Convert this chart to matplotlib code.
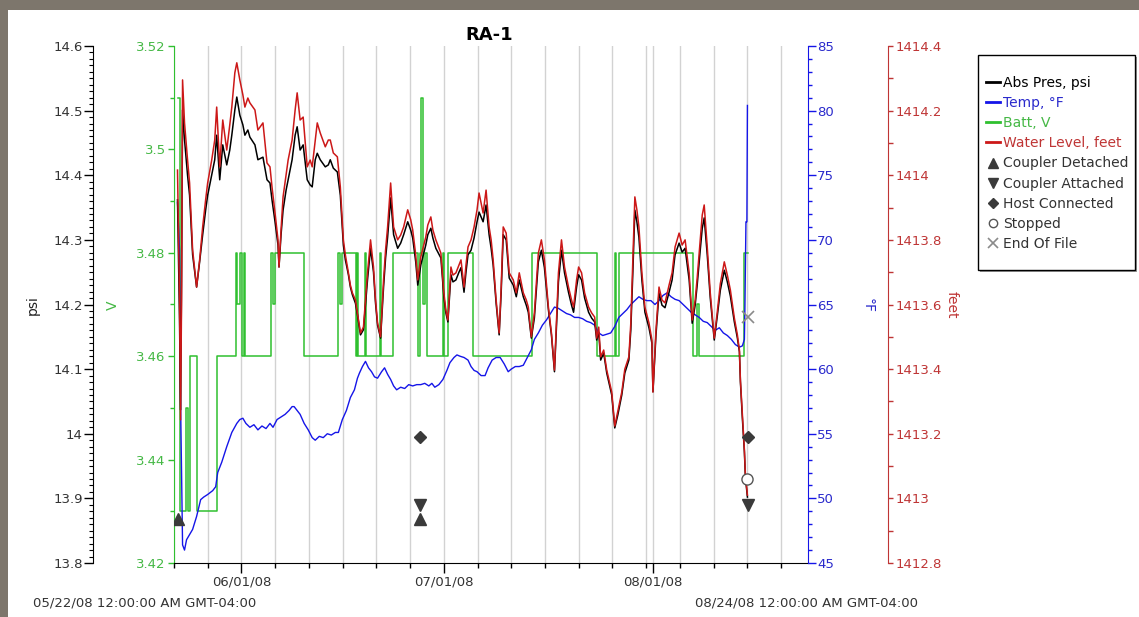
import matplotlib
matplotlib.use('Agg')
import matplotlib.pyplot as plt
from matplotlib.lines import Line2D
from matplotlib.patches import Rectangle
from matplotlib.ticker import MultipleLocator, FuncFormatter, FixedLocator
import numpy as np

# ---------------- data (x = days since 05/22/08 00:00) ----------------
level_days = [
    0.52, 0.82, 0.97, 1.12, 1.27, 1.56, 2.01, 2.31, 2.76, 3.35,
    3.80, 4.25, 4.69, 4.99, 5.59, 6.04, 6.33, 6.78, 7.23, 7.82,
    8.27, 8.57, 9.02, 9.31, 9.76, 10.21, 10.51, 10.95, 11.25, 12.00,
    12.44, 13.19, 13.79, 14.23, 14.53, 14.98, 15.42, 15.57, 15.87, 16.17,
    16.62, 16.92, 17.51, 17.96, 18.26, 18.70, 19.15, 19.75, 20.19, 20.49,
    20.94, 21.24, 21.68, 22.43, 22.88, 23.17, 23.62, 24.22, 24.66, 25.11,
    25.41, 25.86, 26.15, 26.45, 26.90, 27.20, 27.65, 28.09, 28.39, 28.69,
    29.14, 29.58, 29.88, 30.18, 30.63, 31.07, 31.37, 31.67, 32.12, 32.56,
    33.16, 33.61, 34.05, 34.65, 35.10, 35.39, 35.84, 36.14, 36.59, 37.33,
    37.63, 38.08, 38.38, 38.82, 39.57, 40.01, 40.31, 40.61, 41.06, 41.36,
    41.80, 42.25, 42.55, 43.00, 43.29, 43.59, 44.04, 44.49, 44.93, 45.23,
    45.83, 46.27, 46.72, 47.02, 47.32, 47.76, 48.21, 48.51, 48.81, 49.25,
    49.70, 50.30, 50.75, 51.19, 51.79, 52.23, 52.53, 52.98, 53.43, 54.02,
    54.47, 54.92, 55.51, 55.96, 56.41, 56.71, 57.00, 57.45, 57.90, 58.49,
    58.94, 59.24, 59.69, 59.99, 60.43, 60.88, 61.47, 61.92, 62.37, 62.67,
    62.97, 63.26, 63.71, 64.16, 64.90, 65.35, 65.80, 66.39, 66.84, 67.44,
    67.73, 68.03, 68.33, 68.63, 68.93, 69.37, 69.82, 70.42, 70.86, 71.01,
    71.46, 71.91, 72.35, 72.80, 73.40, 73.85, 74.29, 74.89, 75.34, 75.78,
    76.38, 76.83, 77.27, 77.57, 78.02, 78.32, 78.61, 79.06, 79.51, 80.10,
    80.55, 81.00, 81.59, 82.04, 82.49, 83.08, 83.53, 83.83, 83.98, 84.27,
    84.57, 84.72, 85.02,
]

water_level_ft = [
    1414.016, 1413.614, 1413.243, 1413.614, 1414.295, 1414.162, 1414.047, 1413.976, 1413.769, 1413.654,
    1413.738, 1413.840, 1413.924, 1413.976, 1414.047, 1414.109, 1414.211, 1414.026, 1414.171, 1414.078,
    1414.156, 1414.211, 1414.317, 1414.348, 1414.295, 1414.249, 1414.211, 1414.239, 1414.224, 1414.202,
    1414.140, 1414.162, 1414.038, 1414.026, 1413.964, 1413.883, 1413.800, 1413.716, 1413.831, 1413.933,
    1414.001, 1414.047, 1414.109, 1414.202, 1414.255, 1414.171, 1414.180, 1414.026, 1414.047, 1414.026,
    1414.109, 1414.162, 1414.131, 1414.088, 1414.109, 1414.109, 1414.069, 1414.057, 1413.964, 1413.800,
    1413.753, 1413.698, 1413.660, 1413.636, 1413.614, 1413.574, 1413.512, 1413.530, 1413.614, 1413.698,
    1413.800, 1413.716, 1413.614, 1413.543, 1413.500, 1413.676, 1413.769, 1413.840, 1413.976, 1413.840,
    1413.800, 1413.815, 1413.840, 1413.893, 1413.862, 1413.831, 1413.753, 1413.676, 1413.747, 1413.809,
    1413.846, 1413.871, 1413.831, 1413.800, 1413.759, 1413.636, 1413.583, 1413.552, 1413.716, 1413.691,
    1413.698, 1413.722, 1413.738, 1413.654, 1413.722, 1413.778, 1413.800, 1413.840, 1413.893, 1413.945,
    1413.883, 1413.954, 1413.840, 1413.800, 1413.738, 1413.614, 1413.512, 1413.654, 1413.840, 1413.821,
    1413.698, 1413.676, 1413.636, 1413.698, 1413.636, 1413.614, 1413.592, 1413.500, 1413.574, 1413.759,
    1413.800, 1413.738, 1413.592, 1413.512, 1413.397, 1413.552, 1413.698, 1413.800, 1413.716, 1413.654,
    1413.614, 1413.592, 1413.676, 1413.716, 1413.698, 1413.636, 1413.592, 1413.574, 1413.561, 1413.496,
    1413.530, 1413.438, 1413.459, 1413.397, 1413.329, 1413.224, 1413.270, 1413.329, 1413.400, 1413.438,
    1413.543, 1413.738, 1413.933, 1413.893, 1413.840, 1413.698, 1413.592, 1413.543, 1413.490, 1413.329,
    1413.521, 1413.654, 1413.614, 1413.605, 1413.660, 1413.698, 1413.778, 1413.821, 1413.784, 1413.800,
    1413.698, 1413.552, 1413.614, 1413.682, 1413.800, 1413.877, 1413.908, 1413.778, 1413.636, 1413.496,
    1413.577, 1413.664, 1413.732, 1413.691, 1413.645, 1413.558, 1413.506, 1413.459, 1413.366, 1413.258,
    1413.150, 1413.072, 1413.010,
]

abs_pres_psi = [
    14.362, 14.176, 14.037, 14.238, 14.501, 14.455, 14.400, 14.369, 14.277, 14.227,
    14.266, 14.308, 14.346, 14.369, 14.400, 14.424, 14.462, 14.393, 14.447, 14.416,
    14.439, 14.462, 14.501, 14.521, 14.493, 14.478, 14.462, 14.470, 14.459, 14.447,
    14.424, 14.428, 14.393, 14.388, 14.362, 14.328, 14.292, 14.258, 14.308, 14.346,
    14.377, 14.393, 14.424, 14.462, 14.475, 14.439, 14.447, 14.393, 14.385, 14.382,
    14.424, 14.434, 14.424, 14.413, 14.416, 14.424, 14.411, 14.405, 14.369, 14.292,
    14.269, 14.246, 14.227, 14.215, 14.202, 14.184, 14.153, 14.161, 14.199, 14.238,
    14.287, 14.250, 14.202, 14.168, 14.148, 14.227, 14.272, 14.304, 14.365, 14.308,
    14.287, 14.295, 14.308, 14.328, 14.315, 14.303, 14.266, 14.230, 14.261, 14.292,
    14.308, 14.318, 14.303, 14.287, 14.272, 14.212, 14.187, 14.173, 14.246, 14.235,
    14.238, 14.250, 14.257, 14.219, 14.250, 14.277, 14.284, 14.303, 14.328, 14.343,
    14.328, 14.354, 14.308, 14.287, 14.261, 14.202, 14.153, 14.219, 14.308, 14.300,
    14.241, 14.230, 14.212, 14.238, 14.212, 14.199, 14.188, 14.148, 14.179, 14.266,
    14.284, 14.257, 14.192, 14.153, 14.096, 14.168, 14.235, 14.284, 14.249, 14.219,
    14.199, 14.188, 14.227, 14.246, 14.238, 14.210, 14.188, 14.179, 14.173, 14.145,
    14.157, 14.114, 14.125, 14.094, 14.060, 14.009, 14.029, 14.060, 14.094, 14.114,
    14.161, 14.250, 14.346, 14.328, 14.304, 14.238, 14.188, 14.164, 14.140, 14.065,
    14.153, 14.218, 14.199, 14.195, 14.219, 14.238, 14.277, 14.295, 14.281, 14.287,
    14.238, 14.171, 14.199, 14.230, 14.284, 14.318, 14.334, 14.277, 14.210, 14.145,
    14.182, 14.222, 14.253, 14.235, 14.213, 14.173, 14.148, 14.127, 14.080, 14.024,
    13.972, 13.932, 13.902,
]

temp_days = [
    0.52, 0.82, 0.97, 1.27, 1.56, 1.86, 2.31, 2.76, 3.35, 3.95,
    4.40, 4.99, 5.74, 6.18, 6.48, 7.08, 7.82, 8.57, 9.31, 9.76,
    10.21, 10.66, 11.25, 11.85, 12.44, 13.04, 13.64, 14.23, 14.68, 15.28,
    15.87, 16.47, 17.06, 17.51, 17.81, 18.26, 18.70, 19.30, 19.90, 20.49,
    20.94, 21.54, 22.13, 22.73, 23.32, 23.92, 24.37, 24.96, 25.56, 26.15,
    26.75, 27.20, 27.50, 27.94, 28.39, 28.84, 29.29, 29.73, 30.18, 30.78,
    31.22, 31.67, 32.12, 32.56, 33.01, 33.61, 34.20, 34.80, 35.39, 35.99,
    36.59, 37.18, 37.78, 38.23, 38.67, 39.27, 39.87, 40.46, 40.91, 41.51,
    41.95, 42.40, 43.00, 43.59, 44.04, 44.49, 44.93, 45.53, 46.12, 46.57,
    47.17, 47.76, 48.36, 48.96, 49.55, 50.00, 50.60, 51.19, 51.79, 52.38,
    52.98, 53.43, 54.02, 54.62, 55.22, 55.81, 56.41, 57.00, 57.60, 58.20,
    58.79, 59.39, 59.99, 60.58, 61.18, 61.77, 62.37, 62.97, 63.56, 64.16,
    64.75, 65.35, 65.95, 66.54, 67.14, 67.73, 68.33, 68.93, 69.52, 70.12,
    70.71, 71.31, 71.91, 72.50, 73.10, 73.70, 74.29, 74.89, 75.49, 76.08,
    76.68, 77.27, 77.87, 78.47, 79.06, 79.66, 80.25, 80.85, 81.45, 82.04,
    82.64, 83.23, 83.83, 84.27, 84.57, 84.64, 84.72, 84.80, 84.94, 85.02,
]

temp_f = [
    72.9, 69.2, 57.6, 46.4, 46.0, 46.8, 47.2, 47.6, 48.6, 49.9,
    50.1, 50.3, 50.6, 50.9, 52.0, 52.8, 54.0, 55.1, 55.8, 56.1,
    56.2, 55.8, 55.5, 55.7, 55.3, 55.6, 55.4, 55.8, 55.5, 56.1,
    56.3, 56.5, 56.8, 57.1, 57.1, 56.8, 56.5, 55.8, 55.3, 54.7,
    54.5, 54.8, 54.7, 55.0, 54.9, 55.1, 55.1, 56.1, 56.8, 57.8,
    58.4, 59.3, 59.7, 60.2, 60.6, 60.1, 59.8, 59.4, 59.3, 59.8,
    60.1, 59.6, 59.2, 58.7, 58.4, 58.6, 58.5, 58.8, 58.7, 58.8,
    58.8, 58.9, 58.7, 58.9, 58.6, 58.8, 59.2, 59.9, 60.5, 60.9,
    61.1, 61.0, 60.9, 60.7, 60.2, 59.9, 59.8, 59.5, 59.5, 60.1,
    60.7, 60.9, 60.9, 60.4, 59.8, 60.0, 60.2, 60.2, 60.3, 60.9,
    61.5, 62.3, 62.8, 63.4, 63.8, 64.3, 64.8, 64.7, 64.5, 64.3,
    64.2, 64.0, 64.0, 63.9, 63.7, 63.6, 63.4, 62.8, 62.6, 62.7,
    62.8, 63.3, 64.0, 64.3, 64.6, 65.0, 65.3, 65.6, 65.4, 65.3,
    65.3, 65.0, 65.3, 65.7, 65.9, 65.6, 65.4, 65.3, 65.0, 64.7,
    64.4, 64.2, 64.0, 63.7, 63.6, 63.3, 63.0, 63.2, 62.8, 62.6,
    62.3, 61.9, 61.7, 61.8, 62.3, 64.5, 68.3, 71.4, 71.4, 80.4,
]

batt_days = [
    0.52, 0.82, 1.71, 2.01, 2.31, 3.35, 6.33, 9.17, 9.31, 9.76,
    10.06, 10.36, 10.51, 14.38, 14.68, 14.98, 19.30, 24.37, 24.66, 24.96,
    27.05, 27.20, 27.35, 28.39, 28.54, 30.48, 30.63, 32.41, 36.14, 36.44,
    36.59, 36.89, 37.18, 37.48, 39.87, 40.01, 40.61, 44.34, 53.13, 62.67,
    65.35, 65.50, 65.95, 76.97, 77.57, 77.87, 84.57, 85.17,
]

batt_v = [
    3.51, 3.43, 3.45, 3.43, 3.46, 3.43, 3.46, 3.48, 3.47, 3.48,
    3.46, 3.48, 3.46, 3.48, 3.47, 3.48, 3.46, 3.48, 3.47, 3.48,
    3.46, 3.48, 3.46, 3.48, 3.46, 3.48, 3.46, 3.48, 3.46, 3.48,
    3.51, 3.47, 3.48, 3.46, 3.48, 3.46, 3.48, 3.46, 3.48, 3.46,
    3.48, 3.46, 3.48, 3.46, 3.47, 3.46, 3.48, 3.48,
]

# event markers (days, psi)
detached_days = [0.52, 36.44]
detached_psi = [13.868, 13.868]
attached_days = [36.44, 85.17]
attached_psi = [13.890, 13.890]
host_days = [36.44, 85.17]
host_psi = [13.995, 13.995]
stopped_days = [85.02]
stopped_psi = [13.930]
eof_days = [85.17]
eof_psi = [14.181]

month_ticks = [10, 40, 71]
month_labels = ['06/01/08', '07/01/08', '08/01/08']

legend_labels = ['Abs Pres, psi', 'Temp, °F', 'Batt, V', 'Water Level, feet',
                 'Coupler Detached', 'Coupler Attached', 'Host Connected',
                 'Stopped', 'End Of File']

# ---------------- styling ----------------
W, H = 1139, 617
fig = plt.figure(figsize=(W / 100, H / 100), dpi=100)
fig.patch.set_facecolor('white')


def fx(px):
    return px / W


def fy(py):
    return 1 - py / H


C_GREEN = '#2fc02f'
C_GREEN_T = '#45b845'
C_BLUE = '#1515e8'
C_BLUE_T = '#2a2acc'
C_RED = '#cc1818'
C_RED_AX = '#bf3535'
C_MARK = '#3a3a3a'
FS = 9.5

frame_c = '#7d766c'
fig.add_artist(Rectangle((0, fy(10)), 1, 1 - fy(10), transform=fig.transFigure,
                         facecolor=frame_c, edgecolor='none', zorder=0))
fig.add_artist(Rectangle((0, 0), fx(8), 1, transform=fig.transFigure,
                         facecolor=frame_c, edgecolor='none', zorder=0))

L, R, T, B = 174, 808, 46, 563
ax = fig.add_axes([fx(L), fy(B), fx(R) - fx(L), fy(T) - fy(B)])
ax_t = ax.twinx()
ax_p = ax.twinx()
ax_f = ax.twinx()
ax_m = ax.twinx()

width_px = R - L

# host (battery, green, left spine at plot edge)
ax.set_xlim(0, 94)
ax.set_ylim(3.42, 3.52)
for s in ['top', 'right']:
    ax.spines[s].set_visible(False)
ax.spines['left'].set_color(C_GREEN)
ax.spines['bottom'].set_color('black')
ax.yaxis.set_major_locator(MultipleLocator(0.02))
ax.yaxis.set_minor_locator(MultipleLocator(0.01))
ax.yaxis.set_major_formatter(FuncFormatter(lambda v, p: f'{v:.2f}'.rstrip('0').rstrip('.')))
ax.tick_params(axis='y', which='major', colors=C_GREEN, labelcolor=C_GREEN_T, length=4,
               width=1, labelsize=FS, pad=2)
ax.tick_params(axis='y', which='minor', colors=C_GREEN, length=3, width=1)
ax.xaxis.set_major_locator(FixedLocator(month_ticks))
ax.set_xticklabels(month_labels)
ax.xaxis.set_minor_locator(MultipleLocator(5))
ax.tick_params(axis='x', which='major', length=7, width=1, labelsize=FS, labelcolor='#333333', pad=2)
ax.tick_params(axis='x', which='minor', length=3.5, width=1)
ax.grid(True, which='both', axis='x', color='#d2d2d2', lw=1.0)
ax.set_axisbelow(True)
ax.step(batt_days, batt_v, where='post', color=C_GREEN, lw=1.1, zorder=2)

# temperature (blue, right spine at plot edge)
ax_t.set_ylim(45, 85)
for s in ['top', 'left', 'bottom']:
    ax_t.spines[s].set_visible(False)
ax_t.spines['right'].set_color(C_BLUE)
ax_t.yaxis.set_major_locator(MultipleLocator(5))
ax_t.yaxis.set_minor_locator(MultipleLocator(1))
ax_t.tick_params(axis='y', which='major', colors=C_BLUE, labelcolor=C_BLUE_T, length=5.5,
                 width=1, labelsize=FS, pad=1)
ax_t.tick_params(axis='y', which='minor', colors=C_BLUE, length=3, width=1)
ax_t.plot(temp_days, temp_f, color=C_BLUE, lw=1.0)

# pressure (black, left spine moved out)
ax_p.set_ylim(13.8, 14.6)
for s in ['top', 'right', 'bottom']:
    ax_p.spines[s].set_visible(False)
ax_p.spines['left'].set_visible(True)
ax_p.spines['left'].set_position(('axes', (93 - L) / width_px))
ax_p.yaxis.set_ticks_position('left')
ax_p.yaxis.set_label_position('left')
ax_p.yaxis.set_major_locator(MultipleLocator(0.1))
ax_p.yaxis.set_minor_locator(MultipleLocator(0.01))
ax_p.yaxis.set_major_formatter(FuncFormatter(lambda v, p: f'{v:.1f}'.rstrip('0').rstrip('.')))
ax_p.tick_params(axis='y', which='major', colors='black', labelcolor='#333333', length=6.5,
                 width=1, labelsize=FS, pad=1)
ax_p.tick_params(axis='y', which='minor', colors='black', length=3, width=0.8)
ax_p.plot(level_days, abs_pres_psi, color='black', lw=1.1)

# water level (red, right spine moved out)
ax_f.set_ylim(1412.8, 1414.4)
for s in ['top', 'left', 'bottom']:
    ax_f.spines[s].set_visible(False)
ax_f.spines['right'].set_position(('axes', (888 - L) / width_px))
ax_f.spines['right'].set_color(C_RED_AX)
ax_f.yaxis.set_major_locator(MultipleLocator(0.2))
ax_f.yaxis.set_minor_locator(MultipleLocator(0.1))
ax_f.yaxis.set_major_formatter(FuncFormatter(lambda v, p: f'{v:.1f}'.rstrip('0').rstrip('.')))
ax_f.tick_params(axis='y', which='major', colors=C_RED_AX, labelcolor=C_RED_AX, length=3.5,
                 width=1, labelsize=FS, pad=2)
ax_f.tick_params(axis='y', which='minor', colors=C_RED_AX, length=3.5, width=1)
ax_f.plot(level_days, water_level_ft, color=C_RED, lw=1.1)

# event markers on psi scale, top layer
ax_m.set_ylim(13.8, 14.6)
ax_m.set_axis_off()
ax_m.plot(detached_days, detached_psi, ls='none', marker='^', ms=9, color=C_MARK)
ax_m.plot(attached_days, attached_psi, ls='none', marker='v', ms=9, color=C_MARK)
ax_m.plot(host_days, host_psi, ls='none', marker='D', ms=6.5, color=C_MARK)
ax_m.plot(stopped_days, stopped_psi, ls='none', marker='o', ms=8, mfc='white', mec='#555555', mew=1.0)
ax_m.plot(eof_days, eof_psi, ls='none', marker='x', ms=9, mew=1.2, color='#8a8a8a')

# axis titles
fig.text(fx(33), fy(305), 'psi', rotation=90, ha='center', va='center', fontsize=10, color='#222222')
fig.text(fx(113), fy(305), 'V', rotation=90, ha='center', va='center', fontsize=10, color=C_GREEN_T)
fig.text(fx(868), fy(305), '°F', rotation=270, ha='center', va='center', fontsize=10, color=C_BLUE_T)
fig.text(fx(952), fy(305), 'feet', rotation=270, ha='center', va='center', fontsize=10, color=C_RED_AX)
fig.text(fx(489), fy(35), 'RA-1', ha='center', va='center', fontsize=13, fontweight='bold')
fig.text(fx(33), fy(603), '05/22/08 12:00:00 AM GMT-04:00', ha='left', va='center',
         fontsize=FS, color='#333333')
fig.text(fx(695), fy(603), '08/24/08 12:00:00 AM GMT-04:00', ha='left', va='center',
         fontsize=FS, color='#333333')

# legend box
fig.add_artist(Rectangle((fx(980), fy(272)), fx(1137) - fx(980), fy(57) - fy(272),
                         transform=fig.transFigure, facecolor='#9a9a9a', edgecolor='none', zorder=1))
fig.add_artist(Rectangle((fx(978), fy(270)), fx(1135) - fx(978), fy(55) - fy(270),
                         transform=fig.transFigure, facecolor='white', edgecolor='black', lw=1, zorder=2))
handles = [
    Line2D([], [], color='black', lw=2),
    Line2D([], [], color=C_BLUE, lw=2),
    Line2D([], [], color=C_GREEN, lw=2),
    Line2D([], [], color=C_RED, lw=2),
    Line2D([], [], ls='none', marker='^', ms=7, color=C_MARK),
    Line2D([], [], ls='none', marker='v', ms=7, color=C_MARK),
    Line2D([], [], ls='none', marker='D', ms=5, color=C_MARK),
    Line2D([], [], ls='none', marker='o', ms=6, mfc='white', mec='#555555'),
    Line2D([], [], ls='none', marker='x', ms=7, mew=1.2, color='#8a8a8a'),
]
leg = fig.legend(handles, legend_labels, loc='upper left', bbox_to_anchor=(fx(986), fy(76)),
                 frameon=False, fontsize=10, handlelength=1.0, handletextpad=0.2,
                 labelspacing=0.44, borderpad=0, borderaxespad=0)
leg.set_zorder(3)
text_colors = ['black', C_BLUE_T, C_GREEN_T, C_RED_AX] + ['#333333'] * 5
for txt, c in zip(leg.get_texts(), text_colors):
    txt.set_color(c)

fig.savefig('out.png', dpi=100, facecolor='white')
